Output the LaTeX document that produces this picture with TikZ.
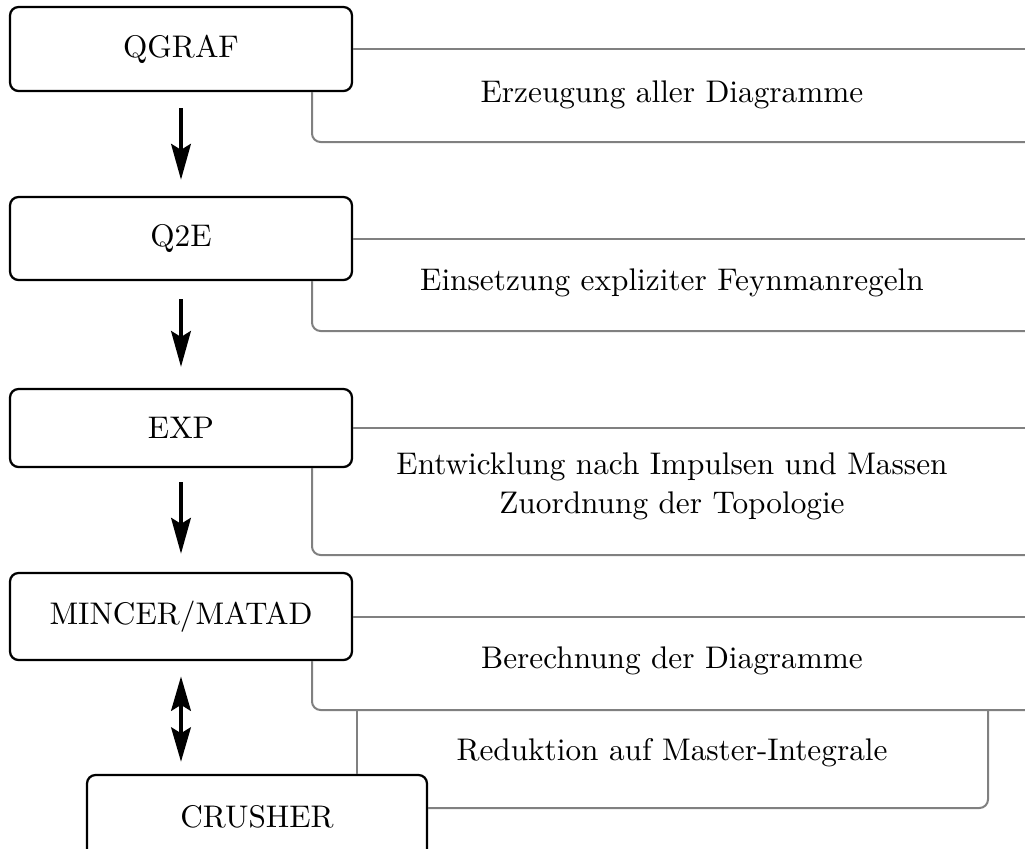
\documentclass[tikz,border=0pt]{standalone}
\usetikzlibrary{arrows.meta}
\begin{document}
\begin{tikzpicture}[x=0.35pt,y=-0.35pt,
  every node/.style={font=\fontsize{10.95}{13.6}\selectfont},
  box/.style={draw=black,thick,rounded corners=3pt,inner sep=0pt,minimum width=119.7pt},
  gline/.style={draw=black!50,line width=0.7pt,rounded corners=3pt},
  flow/.style={line width=1.7pt,-{Stealth[length=12.5pt,width=6.8pt,inset=2pt]}},
  dflow/.style={line width=1.7pt,{Stealth[length=12pt,width=6.8pt,inset=2pt]}-{Stealth[length=12pt,width=6.8pt,inset=2pt]}},
  lbl/.style={inner sep=0pt,align=center}]
\useasboundingbox (0,0) rectangle (1025,848);
\clip (0,0) rectangle (1025,848);
% boxes
\node[box,minimum height=29.4pt] (qgraf) at (181,49) {QGRAF};
\node[box,minimum height=29.05pt] (q2e) at (181,238.5) {Q2E};
\node[box,minimum height=27.3pt] (exp) at (181,428) {EXP};
\node[box,minimum height=30.45pt] (mincer) at (181,616.5) {MINCER/MATAD};
\node[box,minimum width=119pt,minimum height=29.05pt] (crusher) at (257,816.5) {CRUSHER};
% labels
\node[lbl] (t1) at (672,95) {Erzeugung aller Diagramme};
\node[lbl] (t2) at (672,283) {Einsetzung expliziter Feynmanregeln};
\node[lbl] (t3) at (672,486) {Entwicklung nach Impulsen und Massen\\Zuordnung der Topologie};
\node[lbl] (t4) at (672,661) {Berechnung der Diagramme};
\node[lbl] (t5) at (672,753) {Reduktion auf Master-Integrale};
% helper coordinates
\coordinate (vx) at (312,0);
\coordinate (rx) at (1025,0);
\coordinate (qb) at (1025,142);
\coordinate (eb) at (1025,331);
\coordinate (xb) at (1025,555);
\coordinate (mb) at (1025,710);
\coordinate (rl) at (357,710);
\coordinate (rr) at (988,710);
\coordinate (cb) at (0,808);
% grey brackets
\draw[gline] (qgraf.east) -- (qgraf.east -| rx);
\draw[gline] (qgraf.south -| vx) |- (qb);
\draw[gline] (q2e.east) -- (q2e.east -| rx);
\draw[gline] (q2e.south -| vx) |- (eb);
\draw[gline] (exp.east) -- (exp.east -| rx);
\draw[gline] (exp.south -| vx) |- (xb);
\draw[gline] (mincer.east) -- (mincer.east -| rx);
\draw[gline] (mincer.south -| vx) |- (mb);
\draw[gline] (rl) -- (crusher.north -| rl);
\draw[gline] (rr) |- (crusher.east |- cb);
% arrows
\draw[flow] ([yshift=-5.6pt]qgraf.south) -- ([yshift=5.6pt]q2e.north);
\draw[flow] ([yshift=-6.3pt]q2e.south) -- ([yshift=7.3pt]exp.north);
\draw[flow] ([yshift=-4.9pt]exp.south) -- ([yshift=6.3pt]mincer.north);
\draw[dflow] ([yshift=-5.3pt]mincer.south) -- ([yshift=4.2pt]crusher.north -| mincer.south);
\end{tikzpicture}
\end{document}
